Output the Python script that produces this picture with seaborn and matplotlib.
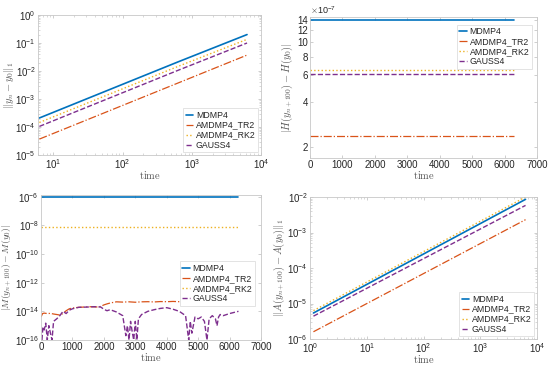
import numpy as np
import pandas as pd
import matplotlib
matplotlib.use("Agg")
import matplotlib.pyplot as plt
import seaborn as sns

# --- series names / styles ---
methods = ["MDMP4", "AMDMP4_TR2", "AMDMP4_RK2", "GAUSS4"]
colors = ["#0072BD", "#D95319", "#EDB120", "#7E2F8E"]
styles = ["-", "-.", ":", "--"]
widths = [1.2, 0.9, 1.0, 1.0]

# --- panel 1: ||y_n - y_0||_1 (log-log) ---
t1 = [6.28, 62.8, 628.3, 6283.2]
p1_mdmp4 = [2.1e-4, 2.1e-3, 2.1e-2, 0.2]
p1_tr2 = [3.7e-5, 3.7e-4, 3.7e-3, 3.7e-2]
p1_rk2 = [1.45e-4, 1.45e-3, 1.45e-2, 0.135]
p1_gauss4 = [1.05e-4, 1.05e-3, 1.05e-2, 0.1]

# --- panel 2: |H(y_{n+100}) - H(y_0)| ---
t2 = [0, 6283.2]
p2_mdmp4 = [1.4e-6, 1.4e-6]
p2_tr2 = [2.34e-7, 2.34e-7]
p2_rk2 = [6.5e-7, 6.5e-7]
p2_gauss4 = [6.15e-7, 6.15e-7]
p2_ticks = [2e-7, 4e-7, 6e-7, 8e-7, 10e-7, 12e-7, 14e-7]
p2_ticklabels = ["2", "4", "6", "8", "10", "12", "14"]

# --- panel 3: |M(y_{n+100}) - M(y_0)| ---
t3_flat = [0, 6283.2]
p3_mdmp4 = [1.0e-6, 1.0e-6]
p3_rk2 = [8.0e-9, 8.0e-9]
t3_tr2 = [0, 50, 100, 200, 300, 400, 500, 600, 700, 800, 900, 1000, 1200, 1400,
          1600, 1800, 1900, 2000, 2100, 2200, 2300, 2400, 2600, 2800, 3000, 3200,
          3400, 3600, 3800, 4000, 4200, 4400, 4600, 4800, 5000, 5200, 5400, 5600,
          5800, 6000, 6200, 6283]
p3_tr2 = [4e-15, 7e-15, 7.5e-15, 7e-15, 7.2e-15, 6.5e-15, 6e-15, 5.5e-15, 7e-15,
          1.1e-14, 1.5e-14, 1.7e-14, 1.9e-14, 2.0e-14, 2.1e-14, 2.0e-14, 2.2e-14,
          2.8e-14, 3.3e-14, 3.8e-14, 4.2e-14, 4.6e-14, 4.4e-14, 4.6e-14, 4.3e-14,
          4.6e-14, 4.7e-14, 4.5e-14, 4.8e-14, 4.7e-14, 4.9e-14, 4.7e-14, 5.0e-14,
          4.8e-14, 4.9e-14, 5.1e-14, 4.9e-14, 5.2e-14, 5.0e-14, 5.1e-14, 4.9e-14,
          4.7e-14]
t3_gauss4 = [30, 60, 100, 150, 200, 250, 300, 350, 400, 500, 600, 700, 800, 900,
             1000, 1200, 1500, 1700, 1900, 2000, 2100, 2200, 2400, 2600, 2700, 2750,
             2800, 2850, 2900, 2950, 3000, 3050, 3100, 3200, 3400, 3600, 3800, 4000,
             4200, 4400, 4600, 4700, 4750, 4800, 4900, 5000, 5100, 5200, 5280, 5350,
             5450, 5550, 5600, 5650, 5700, 5800, 6000, 6200, 6283]
p3_gauss4 = [1e-16, 8e-16, 5e-16, 1.5e-15, 1e-16, 1e-15, 3e-16, 1e-16, 2e-15,
             3e-15, 5e-15, 1e-14, 7e-15, 1.2e-14, 1.5e-14, 1.9e-14, 2e-14, 2.1e-14,
             2e-14, 1.4e-14, 1.1e-14, 1.3e-14, 9e-15, 5e-15, 2e-16, 1e-15, 1e-16,
             2e-15, 4e-16, 1e-16, 2e-15, 1e-16, 3e-15, 6e-15, 1e-14, 1.3e-14,
             1.6e-14, 1.8e-14, 1.4e-14, 1e-14, 5e-15, 1e-16, 2e-15, 3e-16, 4e-15,
             3e-15, 4e-15, 2e-15, 1e-16, 3e-15, 5e-15, 3e-15, 1e-15, 4e-15, 6e-15,
             5e-15, 7e-15, 9e-15, 1e-14]

# --- panel 4: ||A(y_{n+100}) - A(y_0)||_1 (log-log) ---
t4 = [1.15, 6283.2]
p4_mdmp4 = [5.4e-6, 8.6e-3]
p4_tr2 = [1.6e-6, 2.3e-3]
p4_rk2 = [6.3e-6, 1.0e-2]
p4_gauss4 = [4.4e-6, 5.8e-3]

sns.set_theme(style="white")
plt.rcParams["font.family"] = ["Liberation Sans", "DejaVu Sans"]
plt.rcParams["mathtext.fontset"] = "cm"
plt.rcParams.update({
    "xtick.direction": "in", "ytick.direction": "in",
    "xtick.major.size": 2.5, "ytick.major.size": 2.5,
    "xtick.minor.size": 1.3, "ytick.minor.size": 1.3,
    "xtick.major.width": 0.5, "ytick.major.width": 0.5,
    "xtick.minor.width": 0.4, "ytick.minor.width": 0.4,
    "xtick.major.pad": 1.5, "ytick.major.pad": 1.5,
    "xtick.bottom": True, "ytick.left": True,
    "xtick.top": True, "ytick.right": True,
    "xtick.color": "#bbbbbb", "ytick.color": "#bbbbbb",
    "xtick.labelcolor": "#262626", "ytick.labelcolor": "#262626",
    "xtick.labelsize": 7, "ytick.labelsize": 7,
    "axes.edgecolor": "#c8c8c8", "axes.linewidth": 0.6,
})

W, H = 550, 366
fig = plt.figure(figsize=(W / 100, H / 100), dpi=100)


def make_ax(l, t, r, b):
    return fig.add_axes([l / W, (H - b) / H, (r - l) / W, (b - t) / H])


def draw(ax, xs, ys_list):
    for ys, c, ls, lw, name in zip(ys_list, colors, styles, widths, methods):
        xx, yy = ys if isinstance(ys, tuple) else (xs, ys)
        sns.lineplot(x=xx, y=yy, ax=ax, color=c, linestyle=ls, linewidth=lw,
                     label=name, estimator=None, sort=False)


def legend(ax, **kw):
    leg = ax.legend(fontsize=6.3, handlelength=0.9, handletextpad=0.3,
                    labelspacing=0.12, borderpad=0.3, borderaxespad=0.3,
                    fancybox=False, framealpha=1, edgecolor="#d8d8d8", **kw)
    leg.get_frame().set_linewidth(0.5)


label_kw = dict(fontsize=7.5, color="#555555")

# panel 1
ax1 = make_ax(38, 15, 261, 155)
draw(ax1, t1, [p1_mdmp4, p1_tr2, p1_rk2, p1_gauss4])
ax1.set_xscale("log")
ax1.set_yscale("log")
ax1.set_xlim(6.0, 1e4)
ax1.set_ylim(1e-5, 1)
ax1.set_xlabel(r"$\mathrm{time}$", labelpad=-1, **label_kw)
ax1.set_ylabel(r"$\|y_n-y_0\|_1$", **label_kw)
ax1.yaxis.set_label_coords(-0.1, 0.5)
legend(ax1, loc="lower right")

# panel 2
ax2 = make_ax(310, 17, 537, 158)
draw(ax2, t2, [p2_mdmp4, p2_tr2, p2_rk2, p2_gauss4])
ax2.set_yscale("log")
ax2.set_xlim(0, 7000)
ax2.set_ylim(1.68e-7, 1.47e-6)
ax2.set_xticks(range(0, 7001, 1000))
ax2.set_yticks(p2_ticks)
ax2.set_yticklabels(p2_ticklabels)
ax2.yaxis.set_minor_locator(matplotlib.ticker.NullLocator())
ax2.text(0.0, 1.01, r"$\times\mathdefault{10^{-7}}$", transform=ax2.transAxes,
         fontsize=6.5, color="#262626", ha="left", va="bottom")
ax2.set_xlabel(r"$\mathrm{time}$", labelpad=-1, **label_kw)
ax2.set_ylabel(r"$|H(y_{n+100})-H(y_0)|$", **label_kw)
ax2.yaxis.set_label_coords(-0.065, 0.5)
legend(ax2, loc="upper right", bbox_to_anchor=(0.99, 0.965))

# panel 3
ax3 = make_ax(41, 195, 261, 340)
draw(ax3, None, [(t3_flat, p3_mdmp4), (t3_tr2, p3_tr2), (t3_flat, p3_rk2),
                 (t3_gauss4, p3_gauss4)])
ax3.set_yscale("log")
ax3.set_xlim(0, 7000)
ax3.set_ylim(1e-16, 1.3e-6)
ax3.set_xticks(range(0, 7001, 1000))
ax3.set_yticks([1e-16, 1e-14, 1e-12, 1e-10, 1e-8, 1e-6])
ax3.yaxis.set_minor_locator(matplotlib.ticker.NullLocator())
ax3.set_xlabel(r"$\mathrm{time}$", labelpad=-1, **label_kw)
ax3.set_ylabel(r"$|M(y_{n+100})-M(y_0)|$", fontsize=7, color="#555555")
ax3.yaxis.set_label_coords(-0.123, 0.5)
legend(ax3, loc="upper right", bbox_to_anchor=(0.985, 0.56))

# panel 4
ax4 = make_ax(310, 197, 537, 339)
draw(ax4, t4, [p4_mdmp4, p4_tr2, p4_rk2, p4_gauss4])
ax4.set_xscale("log")
ax4.set_yscale("log")
ax4.set_xlim(1, 1e4)
ax4.set_ylim(1e-6, 1e-2)
ax4.set_xlabel(r"$\mathrm{time}$", labelpad=-1, **label_kw)
ax4.set_ylabel(r"$\|A(y_{n+100})-A(y_0)\|_1$", **label_kw)
ax4.yaxis.set_label_coords(-0.1, 0.5)
legend(ax4, loc="lower right")

for ax in (ax1, ax2, ax3, ax4):
    for s in ax.spines.values():
        s.set_visible(True)

fig.savefig("out.png", dpi=100)
